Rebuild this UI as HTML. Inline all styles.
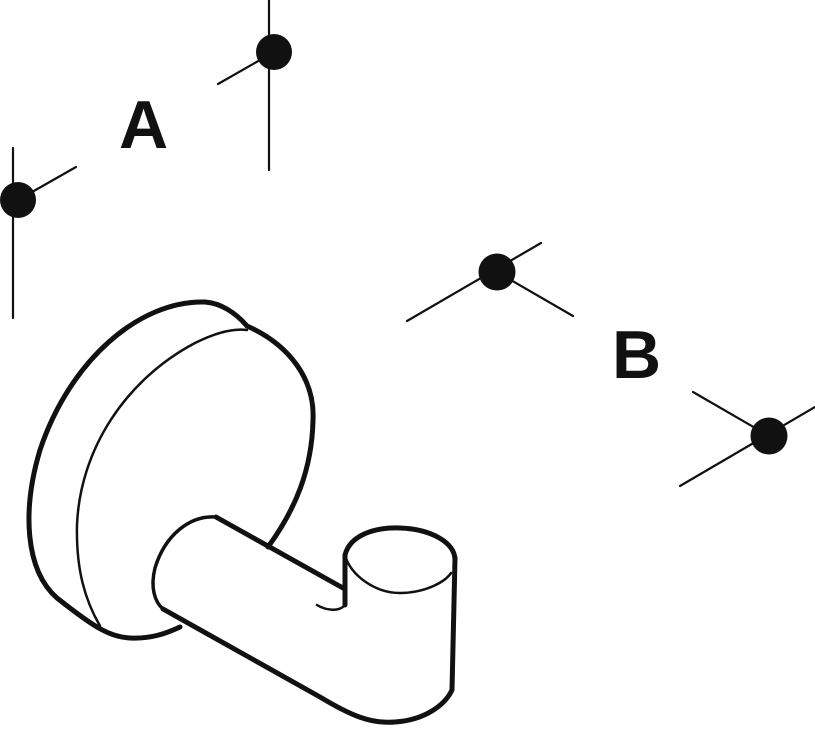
<!DOCTYPE html>
<html><head><style>html,body{margin:0;padding:0;background:#fff;}svg{display:block}</style></head>
<body>
<svg width="815" height="730" viewBox="0 0 815 730" xmlns="http://www.w3.org/2000/svg">
<g stroke="#111" stroke-width="2.2" fill="none" stroke-linecap="round">
<line x1="13" y1="148" x2="13" y2="318"/>
<line x1="18" y1="200" x2="76" y2="167"/>
<line x1="269" y1="0" x2="269" y2="170"/>
<line x1="274" y1="52" x2="218" y2="84"/>
<line x1="407" y1="321" x2="541" y2="243"/>
<line x1="497" y1="272" x2="573" y2="316"/>
<line x1="680" y1="486" x2="815" y2="407"/>
<line x1="693" y1="392" x2="769" y2="436"/>
</g>
<g fill="#111">
<circle cx="18" cy="200" r="18"/>
<circle cx="274" cy="52" r="18"/>
<circle cx="497" cy="272" r="18.5"/>
<circle cx="769" cy="436" r="18.5"/>
</g>
<g font-family="Liberation Sans, sans-serif" font-weight="bold" font-size="68" fill="#111">
<text x="119" y="148">A</text>
<text x="612" y="378">B</text>
</g>
<g stroke="#111" fill="none" stroke-linecap="round" stroke-linejoin="round">
<path d="M180,627 C165,634 150,639 130,638 C110,637 95,628 57,598 C25,570 22,510 40,450 C70,360 140,300 205,302 C220,303 235,312 247,326 C290,345 315,380 313,420 C312,470 295,510 268,547" stroke-width="5"/>
<path d="M247,330 C232,328 215,333 195,343 C125,380 80,450 77,525 C76,570 85,600 100,626" stroke-width="2.5"/>
<path d="M343,588 L216,517 M163,609 L320,697 C350,715 370,724 395,722 C425,720 445,705 452,690 L455,558" stroke-width="5"/>
<path d="M216,517 C190,515 165,535 155,568 C150,588 155,602 163,609" stroke-width="3.5"/>
<path d="M345,605 L345,555 C350,535 375,527 400,528 C430,529 455,542 455,560" stroke-width="5"/>
<path d="M345,555 C350,575 375,593 400,593 C425,593 445,582 451,573" stroke-width="2.5"/>
<path d="M317,605 C325,610 338,612 344,606" stroke-width="2.5"/>
</g>
</svg>
</body></html>
